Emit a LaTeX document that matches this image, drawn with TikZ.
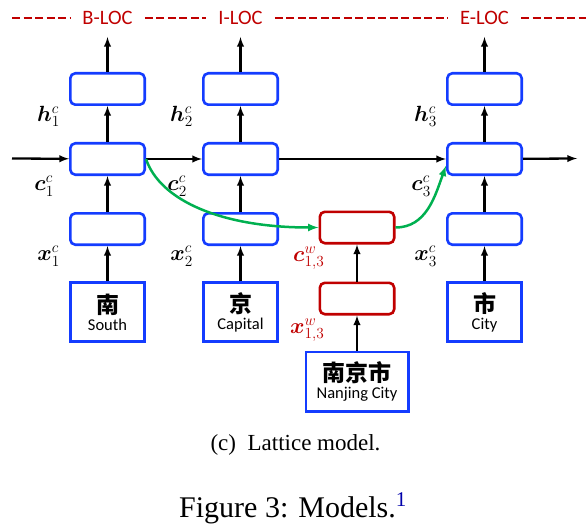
\documentclass[tikz,border=0pt]{standalone}
\usepackage{fix-cm}
\usepackage{amsmath}
\usepackage{bm}
\usepackage{xcolor}
\usepackage{fontspec}
\setmainfont{Liberation Serif}
\newfontfamily\carlito{Carlito}
\newfontfamily\cjk{Noto Sans CJK SC}
\usepackage{tikz}
\usetikzlibrary{arrows,positioning}

\definecolor{LstmBlue}{RGB}{20,60,255}
\definecolor{LstmRed}{RGB}{192,0,0}
\definecolor{GateGreen}{RGB}{0,176,80}
\definecolor{LinkBlue}{RGB}{0,0,170}

\newcommand{\charlabel}[2]{{\cjk\bfseries\fontsize{23}{23}\selectfont #1}\\[-3pt]{\carlito #2}}

\tikzset{
  CellStyle/.style={draw=LstmBlue, line width=2.6pt, rounded corners=5pt,
    minimum width=74.4pt, minimum height=31.4pt, inner sep=0pt},
  WordCellStyle/.style={CellStyle, draw=LstmRed},
  CharStyle/.style={draw=LstmBlue, line width=2.8pt, minimum width=74.2pt,
    minimum height=59.2pt, inner sep=0pt, align=center,
    font=\fontsize{16.5}{20}\selectfont},
  EdgeStyle/.style={-latex, line width=2.3pt},
  GateStyle/.style={EdgeStyle, draw=GateGreen, line width=2.5pt},
  LabelStyle/.style={inner sep=0pt, font=\fontsize{22}{22}\selectfont},
  WordLabelStyle/.style={LabelStyle, text=LstmRed},
  TagStyle/.style={text=LstmRed, inner xsep=12pt, inner ysep=2pt,
    font=\carlito\fontsize{20.5}{20.5}\selectfont},
  DashStyle/.style={draw=LstmRed, line width=2.8pt, dash pattern=on 8pt off 3.5pt}
}

\begin{document}
\begin{tikzpicture}[x=1pt,y=1pt]
\useasboundingbox (0,0) rectangle (586,-532);

% character columns
\node[CellStyle] (h1) at (107.5,-89) {};
\node[CellStyle, below=36pt of h1] (c1) {};
\node[CellStyle, below=36pt of c1] (e1) {};
\node[CharStyle, below=35pt of e1] (ch1) {\charlabel{南}{South}};

\node[CellStyle] (h2) at (240.5,-89) {};
\node[CellStyle, below=36pt of h2] (c2) {};
\node[CellStyle, below=36pt of c2] (e2) {};
\node[CharStyle, below=35pt of e2] (ch2) {\charlabel{京}{Capital}};

\node[CellStyle] (h3) at (484.5,-89) {};
\node[CellStyle, below=36pt of h3] (c3) {};
\node[CellStyle, below=36pt of c3] (e3) {};
\node[CharStyle, below=35pt of e3] (ch3) {\charlabel{市}{City}};

% word column
\node[WordCellStyle] (w1) at (357,-227.5) {};
\node[WordCellStyle, below=37pt of w1] (w2) {};
\node[CharStyle, minimum width=102.2pt, below=35pt of w2] (nj) {\charlabel{南京市}{Nanjing City}};

% tags
\node[TagStyle] (tagB) at (107.5,-18) {B-LOC};
\node[TagStyle] (tagI) at (240.5,-18) {I-LOC};
\node[TagStyle] (tagE) at (484.5,-18) {E-LOC};
\coordinate (d0) at (12,-18);
\coordinate (d1) at (586,-18);
\draw[DashStyle] (d0) -- (tagB);
\draw[DashStyle] (tagB) -- (tagI);
\draw[DashStyle] (tagI) -- (tagE);
\draw[DashStyle] (tagE) -- (d1);

% vertical edges
\coordinate (t1) at (107.5,-37);
\coordinate (t2) at (240.5,-37);
\coordinate (t3) at (484.5,-37);
\draw[EdgeStyle] (ch1) -- (e1);
\draw[EdgeStyle] (e1) -- (c1);
\draw[EdgeStyle] (c1) -- (h1);
\draw[EdgeStyle] (h1) -- (t1);
\draw[EdgeStyle] (ch2) -- (e2);
\draw[EdgeStyle] (e2) -- (c2);
\draw[EdgeStyle] (c2) -- (h2);
\draw[EdgeStyle] (h2) -- (t2);
\draw[EdgeStyle] (ch3) -- (e3);
\draw[EdgeStyle] (e3) -- (c3);
\draw[EdgeStyle] (c3) -- (h3);
\draw[EdgeStyle] (h3) -- (t3);
\draw[EdgeStyle] (nj) -- (w2);
\draw[EdgeStyle] (w2) -- (w1);

% horizontal chain
\coordinate (in) at (12,-158.5);
\coordinate (out) at (577,-158.5);
\draw[EdgeStyle] (in) -- (c1);
\draw[EdgeStyle] (c1) -- (c2);
\draw[EdgeStyle] (c2) -- (c3);
\draw[EdgeStyle] (c3) -- (out);

% lattice links
\draw[GateStyle] (c1.east) .. controls +(14,-41.5) and +(-97,0) .. (w1.west);
\draw[GateStyle] (w1.east) to[out=0,in=-110] (c3.190);

% labels
\node[LabelStyle, below left=0pt and 9pt of h1.south west] {$\bm{h}^c_1$};
\node[LabelStyle, below left=0pt and 15pt of c1.south west] {$\bm{c}^c_1$};
\node[LabelStyle, below left=0pt and 9pt of e1.south west] {$\bm{x}^c_1$};
\node[LabelStyle, below left=0pt and 9pt of h2.south west] {$\bm{h}^c_2$};
\node[LabelStyle, below left=0pt and 15pt of c2.south west] {$\bm{c}^c_2$};
\node[LabelStyle, below left=0pt and 9pt of e2.south west] {$\bm{x}^c_2$};
\node[LabelStyle, below left=0pt and 9pt of h3.south west] {$\bm{h}^c_3$};
\node[LabelStyle, below left=0pt and 15pt of c3.south west] {$\bm{c}^c_3$};
\node[LabelStyle, below left=0pt and 9pt of e3.south west] {$\bm{x}^c_3$};
\node[WordLabelStyle, below left=2pt and -6pt of w1.south west] {$\bm{c}^w_{1,3}$};
\node[WordLabelStyle, below left=3pt and -6pt of w2.south west] {$\bm{x}^w_{1,3}$};

% captions
\node[anchor=base, font=\fontsize{23}{25}\selectfont] (sub) at (295.5,-450) {(c)\enspace Lattice model.};
\node[anchor=base, font=\fontsize{30}{32}\selectfont] (fig) at (293,-517) {Figure 3: Models.\textsuperscript{\color{LinkBlue}1}};
\end{tikzpicture}
\end{document}
